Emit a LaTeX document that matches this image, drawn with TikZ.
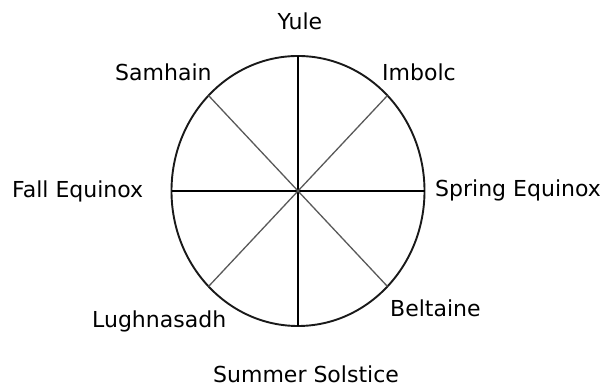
\documentclass[tikz,border=0pt]{standalone}
\usepackage{fontspec}
\setmainfont{DejaVu Sans}
\usetikzlibrary{calc}

\begin{document}
\begin{tikzpicture}[x=1pt, y=1pt,
    wheel/.style={line width=1.9pt, black!90},
    axis/.style={line width=1.6pt, black},
    diag/.style={line width=1.3pt, black!65},
    fest/.style={inner sep=0pt, anchor=base west, font=\fontsize{22}{26}\selectfont}]
  \useasboundingbox (0,0) rectangle (603,387);
  % wheel of the year
  \coordinate (c) at (298,196);
  \draw[wheel] (c) ellipse (126.5 and 135);
  \path (c) ++(90:126.5 and 135) coordinate (yule rim);
  \path (c) ++(-90:126.5 and 135) coordinate (summer rim);
  \path (c) ++(0:126.5 and 135) coordinate (spring rim);
  \path (c) ++(180:126.5 and 135) coordinate (fall rim);
  \path (c) ++(45:126.5 and 135) coordinate (imbolc rim);
  \path (c) ++(135:126.5 and 135) coordinate (samhain rim);
  \path (c) ++(-135:126.5 and 135) coordinate (lugh rim);
  \path (c) ++(-45:126.5 and 135) coordinate (beltaine rim);
  % solstices and equinoxes
  \draw[axis] (yule rim) -- (summer rim);
  \draw[axis] (fall rim) -- (spring rim);
  % cross-quarter days
  \draw[diag] (samhain rim) -- (beltaine rim);
  \draw[diag] (imbolc rim) -- (lugh rim);
  % labels
  \node[fest, anchor=base] (yule) at (300,357) {Yule};
  \node[fest] (samhain) at (115,306) {Samhain};
  \node[fest] (imbolc) at (382,306) {Imbolc};
  \node[fest] (fall) at (12,189) {Fall Equinox};
  \node[fest] (spring) at (435,190) {Spring Equinox};
  \node[fest] (lugh) at (92,59) {Lughnasadh};
  \node[fest] (beltaine) at (390,70) {Beltaine};
  \node[fest] (summer) at (213,4) {Summer Solstice};
\end{tikzpicture}
\end{document}
